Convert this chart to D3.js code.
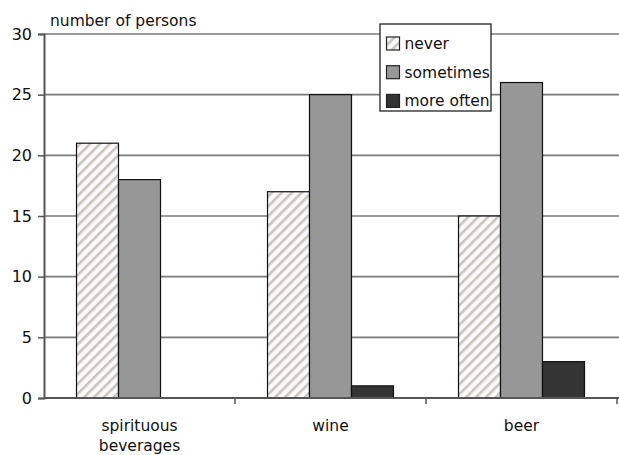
<!DOCTYPE html>
<html>
<head>
<meta charset="utf-8">
<script src="https://cdn.jsdelivr.net/npm/d3@7"></script>
<style>
  html, body { margin: 0; padding: 0; background: #fff; }
  svg { display: block; font-family: "DejaVu Sans", Verdana, sans-serif; }
</style>
</head>
<body>
<svg id="chart" width="619" height="455"></svg>
<script>
// Drinking frequency by beverage type
const categories = ["spirituous beverages", "wine", "beer"];
const categoryLines = [["spirituous", "beverages"], ["wine"], ["beer"]];
const seriesNames = ["never", "sometimes", "more often"];
const never = [21, 17, 15];
const sometimes = [18, 25, 26];
const moreOften = [0, 1, 3];
const yTicks = [0, 5, 10, 15, 20, 25, 30];
const yLabel = "number of persons";

const seriesValues = [never, sometimes, moreOften];

const svg = d3.select("#chart");
const margin = { left: 44, right: 2, top: 34, bottom: 57 };
const W = 619, H = 455;
const FONT = "DejaVu Sans, Verdana, sans-serif";

const x = d3.scaleBand().domain(categories).range([margin.left, W - margin.right]).paddingInner(0).paddingOuter(0);
const xInner = d3.scaleBand().domain(seriesNames).range([0, x.bandwidth()]).paddingInner(0).paddingOuter(0.774);
const y = d3.scaleLinear().domain([0, 30]).range([H - margin.bottom, margin.top]);

// hatch pattern for "never"
const defs = svg.append("defs");
const pat = defs.append("pattern")
  .attr("id", "hatch").attr("patternUnits", "userSpaceOnUse")
  .attr("width", 7).attr("height", 7)
  .attr("patternTransform", "rotate(45)");
pat.append("rect").attr("width", 7).attr("height", 7).attr("fill", "#fbfaf8");
pat.append("rect").attr("x", 0).attr("width", 2.6).attr("height", 7).attr("fill", "#c9c5bd");

const fills = { "never": "url(#hatch)", "sometimes": "#979797", "more often": "#343434" };

// gridlines
svg.append("g").selectAll("line").data(yTicks.filter(d => d > 0)).join("line")
  .attr("x1", margin.left).attr("x2", W)
  .attr("y1", d => y(d)).attr("y2", d => y(d))
  .attr("stroke", "#7a7a7a").attr("stroke-width", 1.6);

// bars
const groups = svg.append("g").selectAll("g").data(categories).join("g")
  .attr("transform", d => `translate(${x(d)},0)`);
groups.selectAll("rect")
  .data((c, i) => seriesNames.map((s, j) => ({ s, v: seriesValues[j][i] })).filter(d => d.v > 0))
  .join("rect")
  .attr("x", d => xInner(d.s))
  .attr("width", xInner.bandwidth())
  .attr("y", d => y(d.v))
  .attr("height", d => y(0) - y(d.v))
  .attr("fill", d => fills[d.s])
  .attr("stroke", "#111").attr("stroke-width", 1.2);

// y axis
const yAxis = svg.append("g").attr("transform", `translate(${margin.left},0)`)
  .call(d3.axisLeft(y).tickValues(yTicks).tickSize(6).tickPadding(6));
yAxis.select(".domain").attr("stroke", "#555").attr("stroke-width", 2);
yAxis.selectAll(".tick line").attr("stroke", "#555").attr("stroke-width", 1.5);
yAxis.selectAll("text").attr("font-size", 16).attr("fill", "#111").attr("font-family", FONT);

// x axis
const xAxisY = y(0);
svg.append("line").attr("x1", margin.left).attr("x2", W)
  .attr("y1", xAxisY).attr("y2", xAxisY)
  .attr("stroke", "#555").attr("stroke-width", 2);
svg.append("g").selectAll("line").data(categories).join("line")
  .attr("x1", d => x(d) + x.bandwidth()).attr("x2", d => x(d) + x.bandwidth())
  .attr("y1", xAxisY).attr("y2", xAxisY + 6)
  .attr("stroke", "#555").attr("stroke-width", 1.5);

const xl = svg.append("g").selectAll("text").data(categories).join("text")
  .attr("x", d => x(d) + x.bandwidth() / 2)
  .attr("y", 431)
  .attr("text-anchor", "middle").attr("font-size", 15.5).attr("fill", "#111");
xl.selectAll("tspan").data((d, i) => categoryLines[i]).join("tspan")
  .attr("x", function () { return d3.select(this.parentNode).attr("x"); })
  .attr("dy", (d, i) => i === 0 ? 0 : 20)
  .text(d => d);

// y label
svg.append("text").attr("x", 50).attr("y", 25.5).attr("font-size", 15.5).attr("fill", "#111").text(yLabel);

// legend
const lg = svg.append("g").attr("transform", "translate(380,24)");
lg.append("rect").attr("width", 111).attr("height", 87).attr("fill", "#fff").attr("stroke", "#222").attr("stroke-width", 1.3);
const items = lg.selectAll("g").data(seriesNames).join("g")
  .attr("transform", (d, i) => `translate(6.5,${19.5 + i * 28.7})`);
items.append("rect").attr("x", 0).attr("y", -6.5).attr("width", 13).attr("height", 13)
  .attr("fill", d => fills[d]).attr("stroke", "#222").attr("stroke-width", 1.2);
items.append("text").attr("x", 18).attr("y", 5.5).attr("font-size", 15.5).attr("fill", "#111").text(d => d);
</script>
</body>
</html>
